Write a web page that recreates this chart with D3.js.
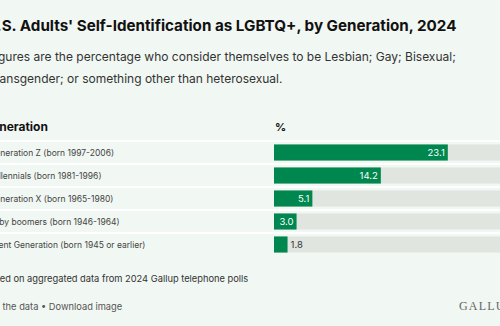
<!DOCTYPE html>
<html>
<head>
<meta charset="utf-8">
<script src="https://cdn.jsdelivr.net/npm/d3@7"></script>
<style>
  html, body { margin: 0; padding: 0; background: #f1f7f2; overflow: hidden; }
  svg { display: block; font-family: Inter, "Noto Sans", sans-serif; }
</style>
</head>
<body>
<svg id="chart" width="500" height="326"></svg>
<script>
// chart data
const generations = [
  "Generation Z (born 1997-2006)",
  "Millennials (born 1981-1996)",
  "Generation X (born 1965-1980)",
  "Baby boomers (born 1946-1964)",
  "Silent Generation (born 1945 or earlier)"
];
const percentages = [23.1, 14.2, 5.1, 3.0, 1.8];

const title = "U.S. Adults' Self-Identification as LGBTQ+, by Generation, 2024";
const subtitleLines = [
  "Figures are the percentage who consider themselves to be Lesbian; Gay; Bisexual;",
  "Transgender; or something other than heterosexual."
];
const footnote = "Based on aggregated data from 2024 Gallup telephone polls";
const links = "Explore the data \u2022 Download image";

const svg = d3.select("#chart");

svg.append("text")
  .attr("x", -14).attr("y", 31)
  .attr("font-size", 15.2).attr("font-weight", 700).attr("fill", "#111")
  .text(title);

svg.selectAll(".sub")
  .data(subtitleLines)
  .join("text")
  .attr("class", "sub")
  .attr("x", -12).attr("y", (d, i) => 61 + i * 22)
  .attr("font-size", 12).attr("fill", "#333")
  .text(d => d);

// column headers
svg.append("text").attr("x", -17).attr("y", 131)
  .attr("font-size", 12).attr("font-weight", 700).attr("fill", "#111")
  .text("Generation");
svg.append("text").attr("x", 275).attr("y", 131)
  .attr("font-size", 11).attr("font-weight", 700).attr("fill", "#111")
  .text("%");

const y = d3.scaleBand()
  .domain(generations)
  .range([141, 256])
  .paddingInner(0.3)
  .paddingOuter(0.15);

const x = d3.scaleLinear().domain([0, 31.5]).range([274, 511]);

const rows = svg.selectAll(".row")
  .data(generations.map((g, i) => ({ g, v: percentages[i] })))
  .join("g")
  .attr("class", "row");

// white separators above each row
rows.append("line")
  .attr("x1", 0).attr("x2", 500)
  .attr("y1", d => y(d.g) - 3.5).attr("y2", d => y(d.g) - 3.5)
  .attr("stroke", "#ffffff").attr("stroke-width", 2);

rows.append("text")
  .attr("x", -11).attr("y", d => y(d.g) + y.bandwidth() / 2 + 3.5)
  .attr("font-size", 8.5).attr("fill", "#444")
  .text(d => d.g);

rows.append("rect")
  .attr("x", x(0)).attr("y", d => y(d.g))
  .attr("width", x.range()[1] - x(0)).attr("height", y.bandwidth())
  .attr("fill", "#e0e5df");

rows.append("rect")
  .attr("x", x(0)).attr("y", d => y(d.g))
  .attr("width", d => x(d.v) - x(0)).attr("height", y.bandwidth())
  .attr("fill", "#00874f");

rows.append("text")
  .attr("x", d => d.v > 2.5 ? x(d.v) - 3 : x(d.v) + 3)
  .attr("y", d => y(d.g) + y.bandwidth() / 2 + 3.5)
  .attr("text-anchor", d => d.v > 2.5 ? "end" : "start")
  .attr("font-size", 9.5).attr("fill", d => d.v > 2.5 ? "#fff" : "#333")
  .text(d => d3.format(".1f")(d.v));

svg.append("text").attr("x", -16.5).attr("y", 282)
  .attr("font-size", 9.3).attr("fill", "#333")
  .text(footnote);
svg.append("text").attr("x", -33).attr("y", 310)
  .attr("font-size", 9.3).attr("fill", "#555")
  .text(links);

svg.append("text").attr("x", 459).attr("y", 310)
  .attr("font-family", "'Liberation Serif', 'DejaVu Serif', serif")
  .attr("font-size", 12).attr("letter-spacing", 1.2).attr("fill", "#666")
  .text("GALLUP");
</script>
</body>
</html>
